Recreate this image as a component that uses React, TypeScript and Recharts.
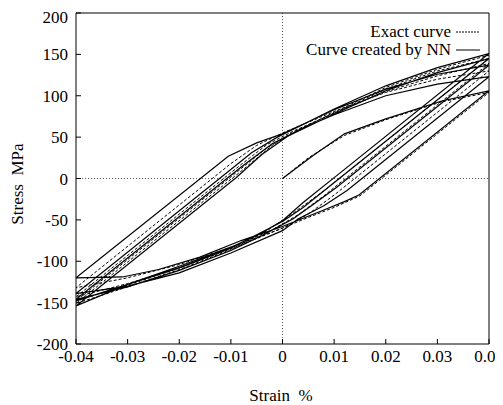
import { LineChart, Line, XAxis, YAxis, ReferenceLine, Legend } from "recharts"

const font = "'Liberation Serif', 'Times New Roman', serif"

const strainTicks = [-0.04, -0.03, -0.02, -0.01, 0, 0.01, 0.02, 0.03, 0.04]
const stressTicks = [-200, -150, -100, -50, 0, 50, 100, 150, 200]

// exact curve, one branch per array: [strain, stress]
const exactLoad = [[0, 0], [0.005, 25], [0.012, 52], [0.02, 71], [0.031, 93], [0.04, 104]]
const exactUnload1 = [[0.04, 104], [0.015, -21], [0.01, -35], [0.005, -47], [0, -60], [-0.01, -83], [-0.02, -104], [-0.03, -120], [-0.04, -132]]
const exactReload1 = [[-0.04, -132], [-0.01, 18], [-0.005, 40], [0, 55], [0.01, 81], [0.02, 104], [0.03, 120], [0.04, 130]]
const exactUnload2 = [[0.04, 130], [0.01, -20], [0.005, -43], [0, -60], [-0.01, -85], [-0.02, -108], [-0.03, -127], [-0.04, -143]]
const exactReload2 = [[-0.04, -143], [-0.008, 17], [-0.003, 41], [0.002, 57], [0.01, 79], [0.02, 105], [0.03, 124], [0.04, 139]]
const exactUnload3 = [[0.04, 139], [0.008, -21], [0.003, -44], [-0.002, -62], [-0.01, -84], [-0.02, -108], [-0.03, -129], [-0.04, -148]]
const exactReload3 = [[-0.04, -148], [-0.008, 12], [-0.003, 37], [0.002, 56], [0.01, 79], [0.02, 108], [0.03, 130], [0.04, 145]]
const exactUnload4 = [[0.04, 145], [0.008, -15], [0.002, -42], [-0.003, -63], [-0.01, -86], [-0.02, -110], [-0.03, -131], [-0.04, -151]]
const exactReload4 = [[-0.04, -151], [-0.007, 14], [-0.002, 40], [0.003, 58], [0.01, 80], [0.02, 110], [0.03, 132], [0.04, 149]]

// curve created by NN
const nnLoad = [[0, 0], [0.006, 28], [0.012, 54], [0.02, 72], [0.031, 94], [0.04, 106]]
const nnUnload1 = [[0.04, 106], [0.0148, -20], [0.012, -28], [0.008, -38], [0, -58], [-0.008, -75], [-0.016, -95], [-0.024, -110], [-0.031, -119], [-0.04, -120]]
const nnReload1 = [[-0.04, -120], [-0.0105, 27], [-0.005, 43], [0, 54], [0.01, 83], [0.02, 108], [0.03, 126], [0.04, 137]]
const nnUnload2 = [[0.04, 137], [0.0105, -10.5], [0.006, -31], [0.002, -49], [-0.004, -69], [-0.01, -87], [-0.02, -111], [-0.03, -131], [-0.04, -146]]
const nnReload2 = [[-0.04, -146], [-0.008, 14], [-0.002, 42], [0.004, 61], [0.01, 77], [0.02, 100], [0.03, 114], [0.04, 123]]
const nnUnload3 = [[0.04, 123], [0.0125, -14.5], [0.008, -33], [0.003, -49], [0, -63], [-0.01, -90], [-0.02, -114], [-0.03, -130], [-0.04, -139]]
const nnReload3 = [[-0.04, -139], [-0.0105, 8.5], [-0.006, 31], [-0.001, 50], [0.01, 84], [0.02, 112], [0.03, 134], [0.04, 151]]
const nnUnload4 = [[0.04, 151], [0.0105, 3.5], [0.004, -29], [0, -51], [-0.005, -69], [-0.01, -83], [-0.02, -106], [-0.03, -128], [-0.04, -154]]
const nnReload4 = [[-0.04, -154], [-0.009, 1], [-0.004, 29], [0.001, 51], [0.01, 78], [0.02, 106], [0.03, 128], [0.04, 145]]
const nnUnload5 = [[0.04, 145], [0.009, -10], [0.004, -35], [0, -52], [-0.01, -84], [-0.02, -108], [-0.03, -128], [-0.04, -148]]

const toPoints = (branches: number[][][]) =>
  branches.flat().map(([x, y]) => ({ x, y }))

const exactData = toPoints([exactLoad, exactUnload1, exactReload1, exactUnload2, exactReload2, exactUnload3, exactReload3, exactUnload4, exactReload4])
const nnData = toPoints([nnLoad, nnUnload1, nnReload1, nnUnload2, nnReload2, nnUnload3, nnReload3, nnUnload4, nnReload4, nnUnload5])

const fmtStrain = (v: number) => (v === 0 ? "0" : v.toFixed(2))

const textBox = {
  fontFamily: font,
  fontSize: 17,
  lineHeight: "17px",
  color: "#000",
  whiteSpace: "pre" as const,
}

// tick labels drawn as html so the serif face is used
function XTick({ x, y, payload }: any) {
  return (
    <foreignObject x={x - 30} y={y + 7} width={60} height={20} style={{ overflow: "visible" }}>
      <div style={{ ...textBox, textAlign: "center" }}>{fmtStrain(payload.value)}</div>
    </foreignObject>
  )
}

function YTick({ x, y, payload }: any) {
  return (
    <foreignObject x={x - 71} y={y - 8} width={60} height={20} style={{ overflow: "visible" }}>
      <div style={{ ...textBox, textAlign: "right" }}>{payload.value}</div>
    </foreignObject>
  )
}

function NoTick() {
  return <g />
}

function LegendBox() {
  const rows = [
    { label: "Exact curve", dash: "2 1" },
    { label: "Curve created by NN", dash: undefined },
  ]
  return (
    <div style={{ fontFamily: font, fontSize: 17, lineHeight: "18px", color: "#000" }}>
      {rows.map((r) => (
        <div key={r.label} style={{ display: "flex", justifyContent: "flex-end", alignItems: "center" }}>
          <span>{r.label}</span>
          <svg width={24} height={10} style={{ marginLeft: 5 }}>
            <line x1={0} y1={5} x2={24} y2={5} stroke="#000" strokeWidth={1} strokeDasharray={r.dash} />
          </svg>
        </div>
      ))}
    </div>
  )
}

function YLabel() {
  return (
    <foreignObject x={-50} y={167} width={120} height={20} transform="rotate(-90 10 176)" style={{ overflow: "visible" }}>
      <div style={{ ...textBox, textAlign: "center" }}>{"Stress  MPa"}</div>
    </foreignObject>
  )
}

function XLabel() {
  return (
    <foreignObject x={213} y={379} width={120} height={20} style={{ overflow: "visible" }}>
      <div style={{ ...textBox, textAlign: "center" }}>{"Strain  %"}</div>
    </foreignObject>
  )
}

export default function App() {
  return (
    <LineChart width={495} height={397} margin={{ top: 4, right: 13, bottom: 31, left: 8 }}>
      <XAxis
        type="number"
        dataKey="x"
        domain={[-0.04, 0.04]}
        ticks={strainTicks}
        allowDataOverflow
        height={30}
        tickSize={-5}
        tick={<XTick />}
        stroke="#000"
        label={<XLabel />}
      />
      <XAxis
        xAxisId="top"
        orientation="top"
        type="number"
        domain={[-0.04, 0.04]}
        ticks={strainTicks}
        height={1}
        tickSize={-5}
        tick={<NoTick />}
        stroke="#000"
      />
      <YAxis
        type="number"
        domain={[-200, 200]}
        ticks={stressTicks}
        allowDataOverflow
        width={60}
        tickSize={-5}
        tick={<YTick />}
        stroke="#000"
        label={<YLabel />}
      />
      <YAxis
        yAxisId="right"
        orientation="right"
        type="number"
        domain={[-200, 200]}
        ticks={stressTicks}
        width={1}
        tickSize={-5}
        tick={<NoTick />}
        stroke="#000"
      />
      <ReferenceLine x={0} stroke="#555" strokeDasharray="1 2" />
      <ReferenceLine y={0} stroke="#555" strokeDasharray="1 2" />
      <Line data={exactData} dataKey="y" type="linear" stroke="#000" strokeWidth={1} strokeDasharray="3 2" dot={false} isAnimationActive={false} />
      <Line data={nnData} dataKey="y" type="linear" stroke="#000" strokeWidth={1.2} dot={false} isAnimationActive={false} />
      <Legend
        layout="horizontal"
        verticalAlign="middle"
        align="center"
        content={<LegendBox />}
        wrapperStyle={{ left: 250, top: 15, width: 222 }}
      />
    </LineChart>
  )
}
